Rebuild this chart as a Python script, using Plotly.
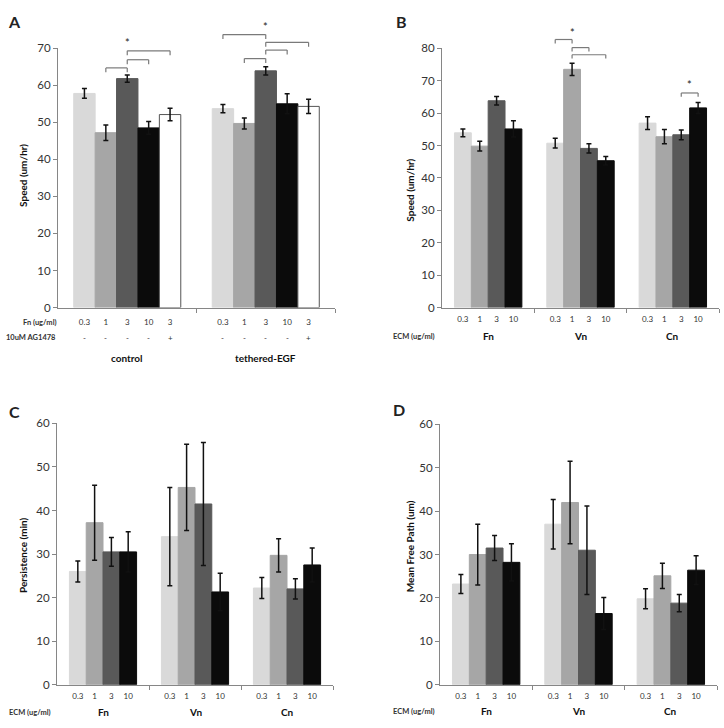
import plotly.graph_objects as go

W, H = 724, 728
FONT = "Lato"

# ---------------- data ----------------
# Panel A: speed on Fn, control vs tethered-EGF
A_groups = ["control", "tethered-EGF"]
A_fn = ["0.3", "1", "3", "10", "3"]
A_ag = ["-", "-", "-", "-", "+"]
A_control = [57.8, 47.2, 61.8, 48.5, 52.1]
A_control_err = [1.3, 2.1, 1.0, 1.7, 1.7]
A_teth = [53.7, 49.7, 63.9, 55.0, 54.3]
A_teth_err = [1.1, 1.5, 1.1, 2.7, 1.9]

# Panels B-D: ECM type x concentration
ECM_groups = ["Fn", "Vn", "Cn"]
ECM_conc = ["0.3", "1", "3", "10"]

B_Fn = [53.9, 49.8, 63.8, 55.1]
B_Vn = [50.7, 73.5, 49.1, 45.3]
B_Cn = [56.9, 52.7, 53.3, 61.6]
B_Fn_err = [1.2, 1.5, 1.3, 2.5]
B_Vn_err = [1.5, 1.9, 1.4, 1.3]
B_Cn_err = [2.0, 2.2, 1.5, 1.7]

C_Fn = [26.0, 37.2, 30.5, 30.5]
C_Vn = [34.0, 45.3, 41.5, 21.3]
C_Cn = [22.2, 29.7, 22.0, 27.5]
C_Fn_err = [2.4, 8.6, 3.3, 4.6]
C_Vn_err = [11.3, 9.9, 14.1, 4.3]
C_Cn_err = [2.4, 3.8, 2.3, 3.9]

D_Fn = [23.2, 30.0, 31.5, 28.2]
D_Vn = [37.0, 42.0, 31.0, 16.4]
D_Cn = [19.8, 25.1, 18.8, 26.4]
D_Fn_err = [2.2, 7.0, 2.9, 4.3]
D_Vn_err = [5.7, 9.5, 10.2, 3.7]
D_Cn_err = [2.3, 2.9, 2.0, 3.3]

# significance brackets: (group, bar_from, bar_to, level)
A_brackets = [(0, 1, 2, 64.7), (0, 2, 3, 66.9), (0, 2, 4, 69.3),
              (1, 0, 2, 73.7), (1, 1, 2, 67.2), (1, 2, 3, 69.5), (1, 2, 4, 71.6)]
A_stars = [(0, 2, 71.6), (1, 2, 75.8)]
B_brackets = [(1, 0, 1, 82.7), (1, 1, 2, 80.2), (1, 1, 3, 78.0), (2, 2, 3, 66.2)]
B_stars = [(1, 1, 84.9), (2, 2.5, 68.7)]

COLORS = ["#d9d9d9", "#a6a6a6", "#595959", "#0b0b0b", "#ffffff"]

# ---------------- layout geometry ----------------
def px_x(p):
    return p / W


def px_y(p):
    return 1 - p / H


panels = {
    1: dict(xd=[58, 335], yd=[42, 306], xr=[-0.5, 1.5], yr=[0, 70], w=0.773 / 5),
    2: dict(xd=[442, 719], yd=[42, 306], xr=[-0.5, 2.5], yr=[0, 80], w=0.73 / 4),
    3: dict(xd=[57, 333], yd=[424, 690], xr=[-0.5, 2.5], yr=[0, 60], w=0.73 / 4),
    4: dict(xd=[440, 717], yd=[425, 690], xr=[-0.5, 2.5], yr=[0, 60], w=0.73 / 4),
}

fig = go.Figure()

AXCOL = "#868686"
TXT = "#333333"


def pos(g, i, n, w):
    return g + (i - (n - 1) / 2) * w


def add_panel(n, groups, series_vals, series_errs, series_names):
    p = panels[n]
    ns = len(series_vals)
    for i in range(ns):
        xs = [pos(g, i, ns, p["w"]) for g in range(len(groups))]
        fig.add_trace(go.Bar(
            x=xs, y=series_vals[i], width=p["w"],
            marker=dict(color=COLORS[i],
                        line=dict(color="#555555" if COLORS[i] == "#ffffff" else COLORS[i], width=1)),
            error_y=dict(type="data", array=series_errs[i], color="#111111", thickness=1.5, width=2.5),
            name=series_names[i], showlegend=False,
            xaxis="x" if n == 1 else f"x{n}", yaxis="y" if n == 1 else f"y{n}",
        ))


# Panel A
add_panel(1, A_groups,
          [[A_control[i], A_teth[i]] for i in range(5)],
          [[A_control_err[i], A_teth_err[i]] for i in range(5)], A_fn)
# Panels B-D
for n, (vals, errs) in zip([2, 3, 4], [
        ((B_Fn, B_Vn, B_Cn), (B_Fn_err, B_Vn_err, B_Cn_err)),
        ((C_Fn, C_Vn, C_Cn), (C_Fn_err, C_Vn_err, C_Cn_err)),
        ((D_Fn, D_Vn, D_Cn), (D_Fn_err, D_Vn_err, D_Cn_err))]):
    add_panel(n, ECM_groups,
              [[vals[g][i] for g in range(3)] for i in range(4)],
              [[errs[g][i] for g in range(3)] for i in range(4)], ECM_conc)

layout = dict(width=W, height=H, autosize=False, margin=dict(l=0, r=0, t=0, b=0),
              paper_bgcolor="white", plot_bgcolor="white", barmode="overlay",
              font=dict(family=FONT, color=TXT), showlegend=False)

for n, p in panels.items():
    xk = "xaxis" if n == 1 else f"xaxis{n}"
    yk = "yaxis" if n == 1 else f"yaxis{n}"
    ns = 5 if n == 1 else 4
    ng = 2 if n == 1 else 3
    labels = A_fn if n == 1 else ECM_conc
    tv, tt = [], []
    for g in range(ng):
        for i in range(ns):
            tv.append(pos(g, i, ns, p["w"]))
            tt.append(labels[i])
    dividers = [g + 0.5 for g in range(ng)]
    layout[xk] = dict(domain=[px_x(p["xd"][0]), px_x(p["xd"][1])], range=p["xr"],
                      anchor="y" if n == 1 else f"y{n}",
                      showline=True, linecolor=AXCOL, linewidth=1, showgrid=False, zeroline=False,
                      tickmode="array", tickvals=tv, ticktext=tt, ticks="",
                      tickfont=dict(size=8, color=TXT, family=FONT),
                      ticklabelstandoff=7 if n == 1 else 4,
                      minor=dict(tickmode="array", tickvals=dividers, ticks="outside", ticklen=4,
                                 tickcolor=AXCOL, showgrid=False),
                      fixedrange=True)
    layout[yk] = dict(domain=[px_y(p["yd"][1]), px_y(p["yd"][0])], range=p["yr"],
                      anchor="x" if n == 1 else f"x{n}",
                      showline=True, linecolor=AXCOL, linewidth=1, showgrid=False, zeroline=False,
                      tickmode="linear", tick0=0, dtick=10, ticks="outside", ticklen=4, tickcolor=AXCOL,
                      tickfont=dict(size=11.5, color=TXT, family=FONT), fixedrange=True)

fig.update_layout(**layout)

ann = []
shapes = []


def label(x, y, text, size=8, bold=False, xref="paper", xanchor="center", angle=0, color=TXT):
    ann.append(dict(x=x, y=y, xref=xref, yref="paper", text=f"<b>{text}</b>" if bold else text,
                    showarrow=False, xanchor=xanchor, yanchor="middle", textangle=angle,
                    font=dict(size=size, color=color, family=FONT)))


# Panel letters
label(px_x(14), px_y(15), "A", 16, True, color="#222222")
label(px_x(401), px_y(15), "B", 16, True, color="#222222")
label(px_x(14), px_y(412), "C", 16, True, color="#222222")
label(px_x(399), px_y(410), "D", 16, True, color="#222222")

# Y titles
label(px_x(23), px_y(172), "Speed (um/hr)", 10, True, angle=-90, color="#111111")
label(px_x(410), px_y(187), "Speed (um/hr)", 10, True, angle=-90, color="#111111")
label(px_x(23), px_y(558), "Persistence (min)", 10, True, angle=-90, color="#111111")
label(px_x(410), px_y(549), "Mean Free Path (um)", 10, True, angle=-90, color="#111111")

# Panel A rows under axis
label(px_x(59), px_y(321), "Fn (ug/ml)", 7.5, True, xanchor="right")
label(px_x(58), px_y(337), "10uM AG1478", 7.5, True, xanchor="right")
for g in range(2):
    for i in range(5):
        label(pos(g, i, 5, panels[1]["w"]), px_y(337), A_ag[i], 8, xref="x")
    label(g, px_y(357), A_groups[g], 10, True, xref="x", color="#111111")

# Panels B-D rows under axis
for n, yrow, ecmx in [(2, 335, 414), (3, 718, 30), (4, 717, 414)]:
    xr = "x" if n == 1 else f"x{n}"
    label(px_x(ecmx), px_y(yrow), "ECM (ug/ml)", 7.5, True)
    for g in range(3):
        label(g, px_y(yrow), ECM_groups[g], 10, True, xref=xr, color="#111111")


def add_brackets(n, brackets, stars, ns, d):
    p = panels[n]
    xref = "x domain" if n == 1 else f"x{n} domain"
    yref = "y domain" if n == 1 else f"y{n} domain"
    xr, yr = p["xr"], p["yr"]

    def fx(v):
        return (v - xr[0]) / (xr[1] - xr[0])

    def fy(v):
        return (v - yr[0]) / (yr[1] - yr[0])

    for g, i, j, lev in brackets:
        x0 = fx(pos(g, i, ns, p["w"]))
        x1 = fx(pos(g, j, ns, p["w"]))
        for a, b, c, e in [(x0, lev - d, x0, lev), (x0, lev, x1, lev), (x1, lev, x1, lev - d)]:
            shapes.append(dict(type="line", xref=xref, yref=yref, x0=a, y0=fy(b), x1=c, y1=fy(e),
                               line=dict(color="#7a7a7a", width=1.2)))
    for g, i, lev in stars:
        ann.append(dict(x=fx(pos(g, i, ns, p["w"])), y=fy(lev), xref=xref, yref=yref, text="*",
                        showarrow=False, xanchor="center", yanchor="middle",
                        font=dict(size=11, color="#222222", family=FONT)))


add_brackets(1, A_brackets, A_stars, 5, 1.2)
add_brackets(2, B_brackets, B_stars, 4, 1.2)

fig.update_layout(annotations=ann, shapes=shapes)
fig.write_html("out.html", config={"displayModeBar": False},
               post_script="document.body.style.margin='0';document.body.style.overflow='hidden';")
